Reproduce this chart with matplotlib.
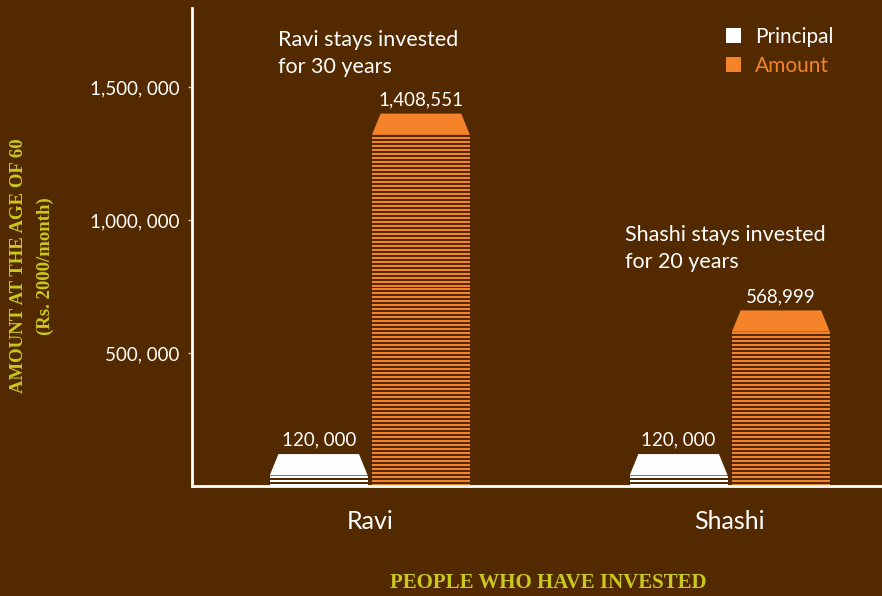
import matplotlib.pyplot as plt
from matplotlib.patches import Polygon, Patch

people = ["Ravi", "Shashi"]
principal = [120000, 120000]
# bar heights as drawn in the picture (Shashi's bar is drawn taller than its label)
amount = [1400000, 660000]
value_labels_principal = ["120, 000", "120, 000"]
value_labels_amount = ["1,408,551", "568,999"]
notes = ["Ravi stays invested\nfor 30 years", "Shashi stays invested\nfor 20 years"]
note_x = [-0.255, 0.708]
note_y = [1654000, 921000]
yticks = [500000, 1000000, 1500000]
ytick_labels = ["500, 000", "1,000, 000", "1,500, 000"]

bg = "#532900"
orange = "#f5832a"
white = "#ffffff"
slab = "#c9c820"
sans = ["Lato", "DejaVu Sans"]
serif = ["Liberation Serif", "DejaVu Serif"]

fig = plt.figure(figsize=(8.82, 5.96), dpi=100, facecolor=bg)
ax = fig.add_axes([192 / 882, 110 / 596, 690 / 882, 478 / 596])
ax.set_facecolor(bg)

w = 0.272
gap = 0.006
cap_h = 80000
period = 15000
stripe = 7500
inset = 0.024


def draw_bar(x, val, color):
    # striped body under a trapezoid cap
    body_top = val - cap_h
    y = 0
    while y + stripe <= body_top:
        ax.bar(x, stripe, width=w, bottom=y, color=color, linewidth=0)
        y += period
    cap = Polygon([(x - w / 2, body_top), (x + w / 2, body_top),
                   (x + w / 2 - inset, val), (x - w / 2 + inset, val)],
                  closed=True, facecolor=color, edgecolor="none")
    ax.add_patch(cap)


for i, name in enumerate(people):
    xp = i - w / 2 - gap
    xa = i + w / 2 + gap
    draw_bar(xp, principal[i], white)
    draw_bar(xa, amount[i], orange)
    ax.text(xp, principal[i] + 33000, value_labels_principal[i], ha="center",
            va="baseline", color=white, fontsize=13.5, family=sans)
    ax.text(xa, amount[i] + 30000, value_labels_amount[i], ha="center",
            va="baseline", color=white, fontsize=13.5, family=sans)

for i, note in enumerate(notes):
    for k, line in enumerate(note.split("\n")):
        ax.text(note_x[i], note_y[i] - k * 101500, line, ha="left",
                va="baseline", color=white, fontsize=15.5, family=sans)

ax.set_xlim(-0.494, 1.423)
ax.set_ylim(0, 1.797e6)
ax.set_xticks([0, 1])
ax.set_xticklabels(people, fontsize=18, color=white, family=sans)
ax.set_yticks(yticks)
ax.set_yticklabels(ytick_labels, fontsize=13.5, color=white, family=sans)
ax.tick_params(axis="x", length=0, pad=17)
ax.tick_params(axis="y", length=3, width=1, color="#c8b8a8", pad=6)

for s in ["top", "right"]:
    ax.spines[s].set_visible(False)
for s in ["left", "bottom"]:
    ax.spines[s].set_color(white)
    ax.spines[s].set_linewidth(2)

fig.text(32 / 882, 1 - 266 / 596, "AMOUNT AT THE AGE OF 60\n(Rs. 2000/month)",
         rotation=90, ha="center", va="center", color=slab, fontsize=13.5,
         family=serif, weight="bold", linespacing=1.8)
fig.text(548 / 882, 1 - 583 / 596, "PEOPLE WHO HAVE INVESTED", ha="center",
         va="center", color=slab, fontsize=15, family=serif, weight="bold")

handles = [Patch(facecolor=white, edgecolor="none"),
           Patch(facecolor=orange, edgecolor="none")]
leg = ax.legend(handles, ["Principal", "Amount"], loc="upper left",
                bbox_to_anchor=((726 - 192) / 690, (486 - 27) / 478),
                frameon=False, borderpad=0, borderaxespad=0,
                prop={"family": sans, "size": 15}, handlelength=0.72,
                handleheight=0.72, handletextpad=0.67, labelspacing=0.42)
for t, c in zip(leg.get_texts(), [white, orange]):
    t.set_color(c)

fig.savefig("out.png", dpi=100, facecolor=bg)
